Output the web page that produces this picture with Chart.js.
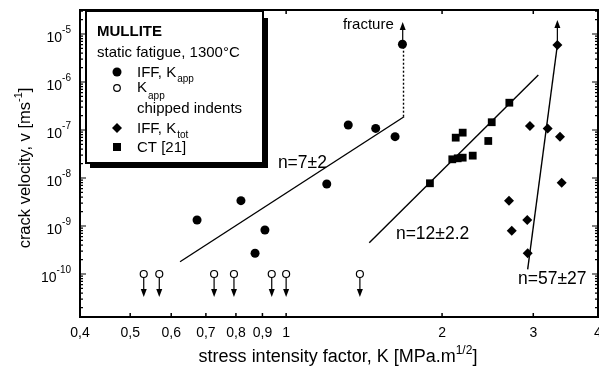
<!DOCTYPE html>
<html>
<head>
<meta charset="utf-8">
<script src="https://cdn.jsdelivr.net/npm/chart.js@4"></script>
<style>
  html, body { margin: 0; padding: 0; background: #fff; }
  #wrap { width: 599px; height: 376px; }
</style>
</head>
<body>
<div id="wrap"><canvas id="crack_chart" width="599" height="376"></canvas></div>
<script>
// K [MPa.m^1/2]  /  v [m/s]
const iff_kapp_K = [0.673, 0.818, 0.910, 0.871, 1.198, 1.318, 1.489, 1.623, 1.677];
const iff_kapp_v = [1.33e-9, 3.37e-9, 8.25e-10, 2.70e-10, 7.5e-9, 1.27e-7, 1.08e-7, 7.25e-8, 6.1e-6];

// chipped indents (upper bound, arrows down)
const chipped_K = [0.531, 0.569, 0.726, 0.793, 0.938, 1.0, 1.388];
const chipped_v = [1e-10, 1e-10, 1e-10, 1e-10, 1e-10, 1e-10, 1e-10];

const iff_ktot_K = [3.339, 2.956, 3.198, 3.378, 3.404, 2.693, 2.921, 2.726, 2.926];
const iff_ktot_v = [5.9e-6, 1.21e-7, 1.08e-7, 7.25e-8, 7.98e-9, 3.37e-9, 1.33e-9, 7.97e-10, 2.70e-10];

const ct_K = [1.895, 2.125, 2.192, 2.093, 2.144, 2.192, 2.292, 2.456, 2.494, 2.697];
const ct_v = [7.76e-9, 6.92e-8, 8.8e-8, 2.45e-8, 2.57e-8, 2.65e-8, 2.92e-8, 5.9e-8, 1.45e-7, 3.7e-7];

// fit lines (end points)
const fit7_K = [0.624, 1.689];
const fit7_v = [1.80e-10, 1.89e-7];
const fit12_K = [1.447, 3.068];
const fit12_v = [4.49e-10, 1.40e-6];
const fit57_K = [2.926, 3.339];
const fit57_v = [1.25e-10, 5.9e-6];
// dotted jump to fracture
const fracture_K = [1.685, 1.685];
const fracture_v = [1.89e-7, 6.1e-6];
// fracture arrows (start -> tip)
const arrow_K = [1.679, 3.339];
const arrow_from = [6.1e-6, 5.9e-6];
const arrow_to = [1.78e-5, 1.96e-5];

// fit labels
const fit_labels = ['n=7±2', 'n=12±2.2', 'n=57±27'];
const fit_label_K = [0.964, 1.629, 2.803];
const fit_label_v = [2.05e-8, 6.8e-10, 7.87e-11];

// axes
const x_ticks = [0.4, 0.5, 0.6, 0.7, 0.8, 0.9, 1, 2, 3, 4];
const y_ticks = [-10, -9, -8, -7, -6, -5]; // exponents
const x_min = 0.4, x_max = 4;
const y_min = 1.27e-11, y_max = 3.16e-5;

const FONT = '"Liberation Sans", Arial, Helvetica, sans-serif';

function pts(K, v) {
  return K.map((k, i) => ({x: k, y: v[i]}));
}

function arrow(c, x, y0, y1) {
  const dir = y1 > y0 ? 1 : -1;
  c.beginPath();
  c.moveTo(x, y0);
  c.lineTo(x, y1 - dir * 6);
  c.stroke();
  c.beginPath();
  c.moveTo(x, y1);
  c.lineTo(x - 3, y1 - dir * 8);
  c.lineTo(x + 3, y1 - dir * 8);
  c.closePath();
  c.fill();
}

// 눈금, 라벨, 화살표, 범례
const decorations = {
  id: 'decorations',
  afterDraw(chart) {
    const c = chart.ctx, a = chart.chartArea;
    const xs = chart.scales.x, ys = chart.scales.y;
    c.save();
    c.fillStyle = '#000';
    c.strokeStyle = '#000';

    // arrows below chipped indents
    c.lineWidth = 1.2;
    chart.getDatasetMeta(1).data.forEach(p => arrow(c, p.x, p.y + 3.5, p.y + 23));
    // fracture arrows
    arrow_K.forEach((k, i) => {
      const x = xs.getPixelForValue(k);
      arrow(c, x, ys.getPixelForValue(arrow_from[i]) - 4, ys.getPixelForValue(arrow_to[i]));
    });

    // frame
    c.lineWidth = 2;
    c.strokeRect(a.left, a.top, a.right - a.left, a.bottom - a.top);

    // x ticks
    c.lineWidth = 1.5;
    x_ticks.forEach(v => {
      const x = xs.getPixelForValue(v);
      c.beginPath();
      c.moveTo(x, a.bottom); c.lineTo(x, a.bottom - 4);
      c.moveTo(x, a.top); c.lineTo(x, a.top + 4);
      c.stroke();
    });
    // y ticks (major + minor)
    c.lineWidth = 1.2;
    for (let d = -11; d <= -5; d++) {
      for (let m = 1; m <= 9; m++) {
        const v = m * Math.pow(10, d);
        if (v < y_min || v > y_max) continue;
        const y = ys.getPixelForValue(v);
        const len = m === 1 ? 6 : 3;
        c.beginPath();
        c.moveTo(a.left, y); c.lineTo(a.left + len, y);
        c.moveTo(a.right, y); c.lineTo(a.right - len, y);
        c.stroke();
      }
    }

    // x tick labels
    c.font = '14px ' + FONT;
    c.textAlign = 'center';
    c.textBaseline = 'alphabetic';
    x_ticks.forEach(v => {
      c.fillText(String(v).replace('.', ','), xs.getPixelForValue(v), 336.5);
    });
    // y tick labels 10^n
    y_ticks.forEach(e => {
      const y = ys.getPixelForValue(Math.pow(10, e));
      const ex = String(e);
      c.font = '10px ' + FONT;
      const wExp = c.measureText(ex).width;
      c.font = '14px ' + FONT;
      const w10 = c.measureText('10').width;
      const x0 = 71 - wExp - w10;
      c.textAlign = 'left';
      c.fillText('10', x0, y + 8);
      c.font = '10px ' + FONT;
      c.fillText(ex, x0 + w10, y - 0.5);
    });

    // axis titles
    c.font = '18px ' + FONT;
    c.textAlign = 'left';
    let t1 = 'stress intensity factor, K [MPa.m';
    let w1 = c.measureText(t1).width;
    c.font = '12px ' + FONT;
    let w2 = c.measureText('1/2').width;
    c.font = '18px ' + FONT;
    let w3 = c.measureText(']').width;
    let xt = 338 - (w1 + w2 + w3) / 2;
    c.fillText(t1, xt, 362);
    c.font = '12px ' + FONT;
    c.fillText('1/2', xt + w1, 354);
    c.font = '18px ' + FONT;
    c.fillText(']', xt + w1 + w2, 362);

    c.save();
    c.translate(30, 168);
    c.rotate(-Math.PI / 2);
    c.font = '16.5px ' + FONT;
    t1 = 'crack velocity, v [ms';
    w1 = c.measureText(t1).width;
    c.font = '11px ' + FONT;
    w2 = c.measureText('-1').width;
    c.font = '16.5px ' + FONT;
    w3 = c.measureText(']').width;
    xt = -(w1 + w2 + w3) / 2;
    c.fillText(t1, xt, 0);
    c.font = '11px ' + FONT;
    c.fillText('-1', xt + w1, -8);
    c.font = '16.5px ' + FONT;
    c.fillText(']', xt + w1 + w2, 0);
    c.restore();

    // fit labels + fracture
    c.font = '17.5px ' + FONT;
    c.textBaseline = 'middle';
    fit_labels.forEach((t, i) => {
      c.fillText(t, xs.getPixelForValue(fit_label_K[i]), ys.getPixelForValue(fit_label_v[i]));
    });
    c.font = '15px ' + FONT;
    c.fillText('fracture', xs.getPixelForValue(1.287), ys.getPixelForValue(1.54e-5));

    // legend box with shadow
    c.fillRect(90, 163, 178, 5);
    c.fillRect(263, 18, 5, 150);
    c.fillStyle = '#fff';
    c.fillRect(86, 11, 177, 152);
    c.fillStyle = '#000';
    c.lineWidth = 2;
    c.strokeRect(86, 11, 177, 152);

    c.textBaseline = 'alphabetic';
    c.textAlign = 'left';
    c.font = 'bold 15px ' + FONT;
    c.fillText('MULLITE', 97, 35.5);
    c.font = '15px ' + FONT;
    c.fillText('static fatigue, 1300°C', 97, 57);

    function sub(main, s, x, y, dy) {
      c.font = '15px ' + FONT;
      c.fillText(main, x, y);
      const w = c.measureText(main).width;
      c.font = '10px ' + FONT;
      c.fillText(s, x + w + 1, y + dy);
    }
    sub('IFF, K', 'app', 137, 76.5, 5);
    sub('K', 'app', 137, 92, 6.5);
    c.font = '15px ' + FONT;
    c.fillText('chipped indents', 137, 112.5);
    sub('IFF, K', 'tot', 137, 133, 5);
    c.font = '15px ' + FONT;
    c.fillText('CT [21]', 137, 152);

    // legend markers
    c.beginPath(); c.arc(117, 72, 4.5, 0, Math.PI * 2); c.fill();
    c.lineWidth = 1.2;
    c.beginPath(); c.arc(117, 88, 3.3, 0, Math.PI * 2); c.stroke();
    c.beginPath();
    c.moveTo(117, 123); c.lineTo(122, 128); c.lineTo(117, 133); c.lineTo(112, 128);
    c.closePath(); c.fill();
    c.fillRect(113, 143, 8, 8);

    c.restore();
  }
};

const fitLine = {showLine: true, pointRadius: 0, borderColor: '#000', borderWidth: 1.4};

new Chart(document.getElementById('crack_chart'), {
  type: 'scatter',
  data: {
    datasets: [
      {label: 'IFF, Kapp', data: pts(iff_kapp_K, iff_kapp_v), pointStyle: 'circle',
       pointRadius: 4.5, backgroundColor: '#000', borderColor: '#000', borderWidth: 0},
      {label: 'Kapp chipped indents', data: pts(chipped_K, chipped_v), pointStyle: 'circle',
       pointRadius: 3.5, backgroundColor: '#fff', borderColor: '#000', borderWidth: 1.2},
      {label: 'IFF, Ktot', data: pts(iff_ktot_K, iff_ktot_v), pointStyle: 'rectRot',
       pointRadius: 5, backgroundColor: '#000', borderColor: '#000', borderWidth: 0},
      {label: 'CT [21]', data: pts(ct_K, ct_v), pointStyle: 'rect',
       pointRadius: 5.5, backgroundColor: '#000', borderColor: '#000', borderWidth: 0},
      Object.assign({label: 'n=7', data: pts(fit7_K, fit7_v)}, fitLine),
      Object.assign({label: 'n=12', data: pts(fit12_K, fit12_v)}, fitLine),
      Object.assign({label: 'n=57', data: pts(fit57_K, fit57_v)}, fitLine),
      {label: 'fracture', data: pts(fracture_K, fracture_v), showLine: true, pointRadius: 0,
       borderColor: '#000', borderWidth: 1.4, borderDash: [2, 2]}
    ]
  },
  options: {
    responsive: false,
    animation: false,
    devicePixelRatio: 1,
    layout: {autoPadding: false, padding: {top: 10, right: 1, left: 0, bottom: 0}},
    plugins: {legend: {display: false}, tooltip: {enabled: false}},
    scales: {
      x: {
        type: 'logarithmic', min: x_min, max: x_max,
        grid: {display: false}, border: {display: false},
        ticks: {display: false},
        afterFit: s => { s.height = 59; }
      },
      y: {
        type: 'logarithmic', min: y_min, max: y_max,
        grid: {display: false}, border: {display: false},
        ticks: {display: false},
        afterFit: s => { s.width = 80; }
      }
    }
  },
  plugins: [decorations]
});
</script>
</body>
</html>
